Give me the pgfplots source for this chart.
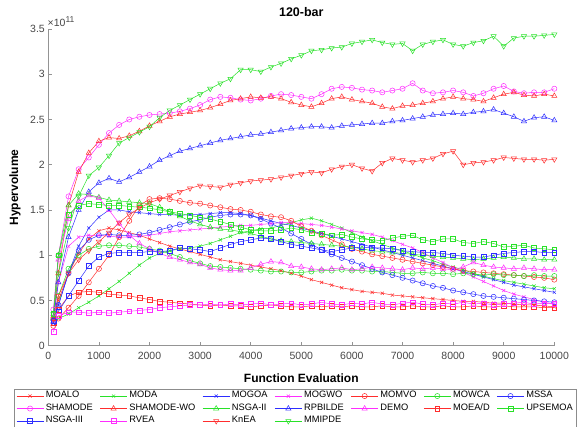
\documentclass[border=0pt]{standalone}
\usepackage{pgfplots}
\pgfplotsset{compat=1.18}
\usepackage{pgfplotstable}
\usepackage{fontspec}
\setmainfont{Liberation Sans}
\definecolor{myred}{RGB}{255,45,45}
\definecolor{mygreen}{RGB}{40,225,40}
\definecolor{myblue}{RGB}{45,45,255}
\definecolor{mymag}{RGB}{255,45,255}
\pgfplotstableread{
x a b c d e f g h i j k l m n o p q r
100 0.28 0.28 0.25 0.28 0.22 0.30 0.25 0.40 0.30 0.30 0.30 0.35 0.25 0.35 0.28 0.15 0.30 0.35
200 0.50 0.30 0.45 0.70 0.30 0.55 0.45 1.00 0.80 1.00 0.70 0.95 0.40 1.00 0.38 0.33 0.55 0.80
400 0.80 0.35 0.80 1.10 0.42 0.85 0.80 1.65 1.55 1.55 1.20 1.40 0.55 1.45 0.55 0.37 0.80 1.30
600 1.02 0.42 1.10 1.20 0.55 1.00 1.05 1.95 1.92 1.68 1.50 1.60 0.59 1.55 0.72 0.37 0.95 1.65
800 1.18 0.48 1.30 1.22 0.70 1.07 1.17 2.08 2.13 1.67 1.70 1.66 0.60 1.57 0.88 0.36 1.05 1.88
1000 1.27 0.55 1.42 1.22 0.85 1.10 1.22 2.22 2.26 1.64 1.80 1.63 0.59 1.56 0.98 0.37 1.15 1.97
1200 1.30 0.63 1.50 1.21 1.00 1.11 1.23 2.35 2.30 1.61 1.85 1.50 0.57 1.55 1.02 0.36 1.25 2.10
1400 1.28 0.71 1.50 1.20 1.20 1.11 1.22 2.44 2.29 1.60 1.81 1.35 0.56 1.55 1.03 0.37 1.36 2.24
1600 1.25 0.80 1.48 1.20 1.38 1.10 1.22 2.50 2.32 1.59 1.86 1.22 0.55 1.54 1.03 0.38 1.45 2.30
1800 1.22 0.89 1.47 1.21 1.55 1.09 1.23 2.53 2.37 1.58 1.92 1.13 0.53 1.53 1.03 0.39 1.52 2.36
2000 1.18 0.97 1.46 1.22 1.62 1.07 1.25 2.55 2.43 1.57 1.98 1.07 0.51 1.52 1.04 0.40 1.58 2.42
2200 1.14 1.02 1.45 1.24 1.63 1.05 1.28 2.56 2.48 1.53 2.05 1.02 0.49 1.50 1.04 0.42 1.62 2.52
2400 1.10 1.05 1.45 1.26 1.62 1.02 1.31 2.57 2.53 1.48 2.10 0.98 0.48 1.48 1.05 0.43 1.66 2.60
2600 1.07 1.07 1.44 1.27 1.60 0.98 1.34 2.59 2.56 1.43 2.15 0.95 0.47 1.46 1.08 0.44 1.70 2.66
2800 1.04 1.08 1.45 1.28 1.58 0.94 1.37 2.62 2.58 1.38 2.18 0.92 0.46 1.44 1.07 0.45 1.74 2.72
3000 1.01 1.10 1.45 1.29 1.57 0.91 1.39 2.66 2.60 1.34 2.21 0.90 0.45 1.42 1.06 0.45 1.77 2.78
3200 0.98 1.13 1.46 1.30 1.55 0.88 1.42 2.72 2.63 1.31 2.24 0.86 0.44 1.40 1.04 0.46 1.76 2.84
3400 0.95 1.17 1.47 1.31 1.53 0.87 1.44 2.75 2.67 1.29 2.27 0.84 0.45 1.37 1.08 0.45 1.75 2.90
3600 0.93 1.21 1.47 1.32 1.51 0.86 1.45 2.74 2.71 1.28 2.29 0.83 0.44 1.34 1.12 0.46 1.78 2.95
3800 0.91 1.25 1.46 1.33 1.50 0.85 1.45 2.72 2.73 1.26 2.31 0.83 0.44 1.31 1.15 0.45 1.80 3.05
4000 0.89 1.27 1.44 1.33 1.48 0.84 1.44 2.71 2.75 1.24 2.33 0.86 0.43 1.28 1.17 0.46 1.82 3.05
4200 0.87 1.29 1.41 1.34 1.45 0.83 1.40 2.73 2.74 1.21 2.34 0.90 0.44 1.27 1.19 0.47 1.83 3.03
4400 0.85 1.30 1.38 1.35 1.43 0.82 1.35 2.76 2.75 1.18 2.36 0.93 0.45 1.27 1.18 0.45 1.84 3.08
4600 0.83 1.33 1.35 1.36 1.42 0.82 1.30 2.78 2.73 1.16 2.38 0.92 0.44 1.28 1.15 0.46 1.86 3.12
4800 0.80 1.36 1.33 1.36 1.38 0.81 1.24 2.77 2.69 1.15 2.40 0.88 0.43 1.30 1.12 0.47 1.88 3.17
5000 0.77 1.39 1.30 1.35 1.32 0.81 1.18 2.75 2.66 1.14 2.41 0.87 0.43 1.28 1.10 0.45 1.90 3.21
5200 0.73 1.41 1.27 1.34 1.27 0.82 1.12 2.73 2.64 1.13 2.42 0.85 0.44 1.25 1.08 0.46 1.92 3.26
5400 0.70 1.38 1.24 1.33 1.22 0.83 1.06 2.78 2.68 1.12 2.42 0.84 0.43 1.24 1.06 0.48 1.91 3.27
5600 0.67 1.34 1.21 1.31 1.17 0.83 1.01 2.84 2.73 1.11 2.41 0.85 0.44 1.22 1.04 0.46 1.95 3.29
5800 0.64 1.30 1.18 1.29 1.12 0.84 0.97 2.86 2.75 1.10 2.43 0.86 0.43 1.23 1.06 0.45 1.98 3.30
6000 0.62 1.25 1.15 1.27 1.07 0.83 0.93 2.85 2.72 1.09 2.44 0.84 0.44 1.20 1.08 0.47 2.00 3.34
6200 0.60 1.20 1.12 1.25 1.04 0.83 0.89 2.83 2.70 1.07 2.45 0.85 0.43 1.18 1.09 0.46 1.96 3.36
6400 0.59 1.16 1.09 1.23 1.01 0.82 0.85 2.82 2.68 1.05 2.46 0.87 0.43 1.17 1.08 0.48 1.93 3.38
6600 0.58 1.12 1.06 1.20 0.99 0.82 0.81 2.80 2.64 1.04 2.46 0.86 0.44 1.16 1.08 0.46 2.02 3.35
6800 0.56 1.08 1.03 1.16 0.97 0.81 0.78 2.82 2.62 1.03 2.48 0.85 0.43 1.19 1.07 0.45 2.07 3.33
7000 0.55 1.05 1.00 1.12 0.95 0.80 0.75 2.84 2.65 1.02 2.49 0.84 0.43 1.21 1.05 0.47 2.05 3.34
7200 0.54 1.01 0.97 1.08 0.93 0.80 0.72 2.90 2.66 1.01 2.51 0.86 0.44 1.22 1.04 0.48 2.03 3.26
7400 0.53 0.97 0.94 1.03 0.91 0.81 0.69 2.82 2.68 1.00 2.53 0.85 0.43 1.17 1.03 0.46 2.05 3.33
7600 0.52 0.94 0.91 0.97 0.89 0.80 0.66 2.79 2.70 0.99 2.55 0.86 0.43 1.15 1.03 0.45 2.07 3.36
7800 0.51 0.90 0.88 0.92 0.87 0.80 0.64 2.80 2.73 0.98 2.56 0.85 0.44 1.18 1.02 0.47 2.12 3.38
8000 0.50 0.87 0.85 0.86 0.85 0.79 0.61 2.82 2.75 0.97 2.57 0.84 0.43 1.18 1.00 0.46 2.15 3.33
8200 0.49 0.84 0.82 0.81 0.83 0.80 0.59 2.80 2.73 0.96 2.56 0.87 0.43 1.14 0.99 0.48 2.00 3.31
8400 0.49 0.80 0.79 0.76 0.82 0.79 0.57 2.76 2.72 0.95 2.58 0.92 0.44 1.13 0.98 0.46 2.02 3.35
8600 0.48 0.77 0.76 0.71 0.81 0.78 0.55 2.79 2.70 0.96 2.59 0.89 0.43 1.15 0.98 0.47 2.03 3.37
8800 0.47 0.74 0.73 0.66 0.80 0.79 0.54 2.84 2.74 0.97 2.61 0.87 0.43 1.13 1.00 0.45 2.05 3.42
9000 0.47 0.72 0.70 0.61 0.79 0.78 0.53 2.87 2.78 0.98 2.57 0.86 0.44 1.09 1.02 0.46 2.08 3.31
9200 0.46 0.70 0.67 0.57 0.78 0.78 0.52 2.81 2.80 0.97 2.53 0.85 0.43 1.10 1.03 0.47 2.07 3.40
9400 0.45 0.68 0.65 0.54 0.77 0.77 0.51 2.79 2.77 0.96 2.48 0.86 0.43 1.11 1.04 0.48 2.06 3.42
9600 0.45 0.66 0.63 0.51 0.76 0.78 0.50 2.80 2.76 0.96 2.52 0.85 0.43 1.08 1.04 0.46 2.06 3.42
9800 0.44 0.64 0.61 0.48 0.75 0.77 0.49 2.80 2.78 0.95 2.53 0.84 0.42 1.07 1.03 0.47 2.05 3.43
10000 0.43 0.63 0.59 0.46 0.73 0.77 0.48 2.84 2.76 0.95 2.49 0.84 0.42 1.06 1.03 0.46 2.06 3.44
}\data
\begin{document}
\begin{tikzpicture}
\useasboundingbox (0pt,0pt) rectangle (577pt,-427pt);
\begin{axis}[
  at={(48.3pt,-345.7pt)}, anchor=south west,
  scale only axis, width=506pt, height=316.7pt,
  xmin=0, xmax=10000, ymin=0, ymax=3.5,
  clip=false,
  axis x line*=bottom, axis y line*=left,
  axis line style={-, black!42, line width=0.7pt},
  tick style={black!42, line width=0.6pt},
  tick align=inside, major tick length=4pt,
  xtick={0,1000,...,10000},
  xticklabels={0,1000,2000,3000,4000,5000,6000,7000,8000,9000,10000},
  ytick={0,0.5,1,1.5,2,2.5,3,3.5},
  yticklabels={0,0.5,1,1.5,2,2.5,3,3.5},
  scaled x ticks=false, scaled y ticks=false,
  /pgf/number format/assume math mode=true,
  tick label style={font=\fontsize{10.5}{12}\selectfont, text=black!72},
  xticklabel style={yshift=-2.5pt},
  title={120-bar},
  title style={at={(axis description cs:0.5,1.035)}, anchor=center, font=\bfseries\fontsize{12.5}{14}\selectfont},
  xlabel={Function Evaluation},
  xlabel style={at={(axis description cs:0.5,-0.104)}, anchor=center, font=\bfseries\fontsize{12}{14}\selectfont},
  ylabel={Hypervolume},
  ylabel style={at={(axis description cs:-0.066,0.5)}, anchor=center, font=\bfseries\fontsize{12}{14}\selectfont},
  every axis plot/.append style={line width=0.5pt},
  legend columns=7,
  legend cell align=left,
  legend image code/.code={\draw[mark repeat=2,mark phase=2,#1] plot coordinates {(0pt,0pt) (13.5pt,0pt) (27pt,0pt)};},
  legend style={at={(axis description cs:-0.0678,-0.1367)}, anchor=north west,
    draw=black!45, line width=0.6pt, fill=white,
    font=\fontsize{9.3}{10}\selectfont,
    inner xsep=2pt, inner ysep=0.5pt,
    nodes={inner ysep=0pt, inner xsep=2pt, text height=8.2pt, text depth=4.3pt},
    /tikz/every even column/.append style={column sep=5pt}},
]
\addplot[myred, mark=x, mark size=2.2pt] table[x=x,y=a]{\data}; \addlegendentry{MOALO}
\addplot[mygreen, mark=x, mark size=2.2pt] table[x=x,y=b]{\data}; \addlegendentry{MODA}
\addplot[myblue, mark=x, mark size=2.2pt] table[x=x,y=c]{\data}; \addlegendentry{MOGOA}
\addplot[mymag, mark=x, mark size=2.2pt] table[x=x,y=d]{\data}; \addlegendentry{MOGWO}
\addplot[myred, mark=o, mark size=2.6pt] table[x=x,y=e]{\data}; \addlegendentry{MOMVO}
\addplot[mygreen, mark=o, mark size=2.6pt] table[x=x,y=f]{\data}; \addlegendentry{MOWCA}
\addplot[myblue, mark=o, mark size=2.6pt] table[x=x,y=g]{\data}; \addlegendentry{MSSA}
\addplot[mymag, mark=o, mark size=2.6pt] table[x=x,y=h]{\data}; \addlegendentry{SHAMODE}
\addplot[myred, mark=triangle, mark size=3pt] table[x=x,y=i]{\data}; \addlegendentry{SHAMODE-WO}
\addplot[mygreen, mark=triangle, mark size=3pt] table[x=x,y=j]{\data}; \addlegendentry{NSGA-II}
\addplot[myblue, mark=triangle, mark size=3pt] table[x=x,y=k]{\data}; \addlegendentry{RPBILDE}
\addplot[mymag, mark=triangle, mark size=3pt] table[x=x,y=l]{\data}; \addlegendentry{DEMO}
\addplot[myred, mark=square, mark size=2.4pt] table[x=x,y=m]{\data}; \addlegendentry{MOEA/D}
\addplot[mygreen, mark=square, mark size=2.4pt] table[x=x,y=n]{\data}; \addlegendentry{UPSEMOA}
\addplot[myblue, mark=square, mark size=2.4pt] table[x=x,y=o]{\data}; \addlegendentry{NSGA-III}
\addplot[mymag, mark=square, mark size=2.4pt] table[x=x,y=p]{\data}; \addlegendentry{RVEA}
\addplot[myred, mark=triangle, mark size=3pt, mark options={rotate=180}] table[x=x,y=q]{\data}; \addlegendentry{KnEA}
\addplot[mygreen, mark=triangle, mark size=3pt, mark options={rotate=180}] table[x=x,y=r]{\data}; \addlegendentry{MMIPDE}
\end{axis}
\node[anchor=base west, inner sep=0pt, text=black!72, font=\fontsize{10.5}{12}\selectfont] at (47.5pt,-27pt) {×10\raisebox{4.5pt}{\fontsize{8.5}{9}\selectfont 11}};
\end{tikzpicture}
\end{document}
